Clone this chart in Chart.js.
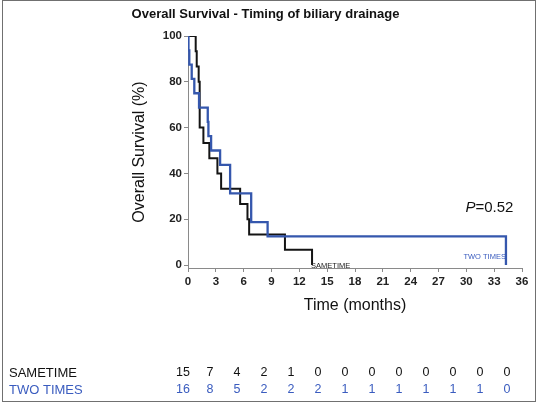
<!DOCTYPE html>
<html>
<head>
<meta charset="utf-8">
<script src="https://cdn.jsdelivr.net/npm/chart.js@4/dist/chart.umd.min.js"></script>
<style>
  html, body { margin: 0; padding: 0; background: #fff; }
  #wrap { position: relative; width: 538px; height: 404px; }
  #frame { position: absolute; left: 2px; top: 0px; width: 534px; height: 402px; box-sizing: border-box; border: 1.5px solid #707070; pointer-events: none; }
</style>
</head>
<body>
<div id="wrap">
  <canvas id="c" width="538" height="404"></canvas>
  <div id="frame"></div>
</div>
<script>
// ---- Data ----
const chartTitle = 'Overall Survival - Timing of biliary drainage';
const seriesNames = ['SAMETIME', 'TWO TIMES'];
// Kaplan-Meier step points: time (months) and survival (%) after each event
const sameTimeTimes    = [0, 0.83, 0.94, 1.15, 1.26, 1.66, 2.3, 3.17, 3.57, 5.62, 6.41, 6.59, 10.45, 13.37];
const sameTimeSurvival = [100, 93.33, 86.67, 80, 60, 53.33, 46.67, 40, 33.33, 26.67, 20, 13.33, 6.67, 0];
const twoTimesTimes    = [0, 0.05, 0.14, 0.4, 0.68, 1.19, 2.13, 2.2, 2.49, 3.46, 4.54, 6.81, 8.58, 34.27];
const twoTimesSurvival = [100, 93.75, 87.5, 81.25, 75, 68.75, 62.5, 56.25, 50, 43.75, 31.25, 18.75, 12.5, 0];
// Tick labels and numbers at risk
const xTickValues = [0, 3, 6, 9, 12, 15, 18, 21, 24, 27, 30, 33, 36];
const yTickValues = [0, 20, 40, 60, 80, 100];
const atRiskSameTime = [15, 7, 4, 2, 1, 0, 0, 0, 0, 0, 0, 0, 0];
const atRiskTwoTimes = [16, 8, 5, 2, 2, 2, 1, 1, 1, 1, 1, 1, 0];
const pValueText = '=0.52';
const pValuePos = { x: 29.9, y: 24.9 };

const BLACK = '#141414';
const BLUE = '#3557ad';
const BLUE_TEXT = '#3a5cbf';

function pts(ts, ss) { return ts.map((t, i) => ({ x: t, y: ss[i] })); }

const annotations = {
  id: 'annotations',
  afterDraw(chart) {
    const ctx = chart.ctx;
    const xs = chart.scales.x, ys = chart.scales.y;
    ctx.save();
    // Title
    ctx.fillStyle = '#111';
    ctx.font = 'bold 13px "Liberation Sans", Arial, sans-serif';
    ctx.textAlign = 'center';
    ctx.textBaseline = 'middle';
    ctx.fillText(chartTitle, 265.5, 14);

    // Curve end labels
    ctx.font = '7.5px "Liberation Sans", Arial, sans-serif';
    ctx.textBaseline = 'middle';
    ctx.textAlign = 'left';
    ctx.fillStyle = '#222';
    const sEnd = sameTimeTimes[sameTimeTimes.length - 1];
    ctx.fillText(seriesNames[0], xs.getPixelForValue(sEnd) - 1, ys.getPixelForValue(0) + 1);
    ctx.textAlign = 'right';
    ctx.fillStyle = BLUE_TEXT;
    const tEnd = twoTimesTimes[twoTimesTimes.length - 1];
    ctx.fillText(seriesNames[1], xs.getPixelForValue(tEnd), ys.getPixelForValue(3.5));

    // P value
    ctx.fillStyle = '#111';
    ctx.textAlign = 'left';
    ctx.font = 'italic 15px "Liberation Sans", Arial, sans-serif';
    const px = xs.getPixelForValue(pValuePos.x), py = ys.getPixelForValue(pValuePos.y);
    ctx.fillText('P', px, py);
    const pw = ctx.measureText('P').width;
    ctx.font = '15px "Liberation Sans", Arial, sans-serif';
    ctx.fillText(pValueText, px + pw, py);

    // Numbers at risk table
    const rowY = [373, 390];
    const rows = [atRiskSameTime, atRiskTwoTimes];
    const cols = ['#111', BLUE_TEXT];
    for (let r = 0; r < 2; r++) {
      ctx.fillStyle = cols[r];
      ctx.textAlign = 'left';
      ctx.font = '13px "Liberation Sans", Arial, sans-serif';
      ctx.fillText(seriesNames[r], 9, rowY[r]);
      ctx.textAlign = 'center';
      ctx.font = '12.5px "Liberation Sans", Arial, sans-serif';
      rows[r].forEach((n, i) => {
        const x = xs.getPixelForValue(xTickValues[i] * 0.97) - 5;
        ctx.fillText(String(n), x, rowY[r]);
      });
    }
    ctx.restore();
  }
};

new Chart(document.getElementById('c'), {
  type: 'line',
  data: {
    datasets: [
      {
        label: seriesNames[0],
        data: pts(sameTimeTimes, sameTimeSurvival),
        borderColor: BLACK,
        borderWidth: 2,
        stepped: true,
        pointRadius: 0,
        fill: false,
        order: 1
      },
      {
        label: seriesNames[1],
        data: pts(twoTimesTimes, twoTimesSurvival),
        borderColor: BLUE,
        borderWidth: 2.3,
        stepped: true,
        pointRadius: 0,
        fill: false,
        order: 0
      }
    ]
  },
  options: {
    responsive: false,
    animation: false,
    layout: { padding: { top: 36, right: 16, bottom: 86, left: 0 } },
    plugins: { legend: { display: false }, tooltip: { enabled: false }, title: { display: false } },
    scales: {
      x: {
        type: 'linear',
        min: 0,
        max: 36,
        afterBuildTicks: s => { s.ticks = xTickValues.map(v => ({ value: v })); },
        afterFit: s => { s.height = 50; },
        grid: { drawOnChartArea: false, drawTicks: true, tickLength: 4, color: '#8a8a8a' },
        border: { display: true, color: '#8a8a8a', width: 1 },
        ticks: { color: '#222', padding: 3, maxRotation: 0, font: { family: '"Liberation Sans", Arial, sans-serif', size: 11.5, weight: 'bold' } },
        title: { display: true, text: 'Time (months)', color: '#111', padding: { top: 0, bottom: 3 }, font: { family: '"Liberation Sans", Arial, sans-serif', size: 16 } }
      },
      y: {
        type: 'linear',
        min: -1.3,
        max: 100,
        afterBuildTicks: s => { s.ticks = yTickValues.map(v => ({ value: v })); },
        afterFit: s => { s.width = 188; },
        grid: { drawOnChartArea: false, drawTicks: true, tickLength: 4, color: '#8a8a8a' },
        border: { display: true, color: '#8a8a8a', width: 1 },
        ticks: { color: '#222', padding: 2, font: { family: '"Liberation Sans", Arial, sans-serif', size: 11.5, weight: 'bold' } },
        title: { display: true, text: 'Overall Survival (%)', color: '#111', padding: { top: 130, bottom: 0 }, font: { family: '"Liberation Sans", Arial, sans-serif', size: 16 } }
      }
    }
  },
  plugins: [annotations]
});
</script>
</body>
</html>
